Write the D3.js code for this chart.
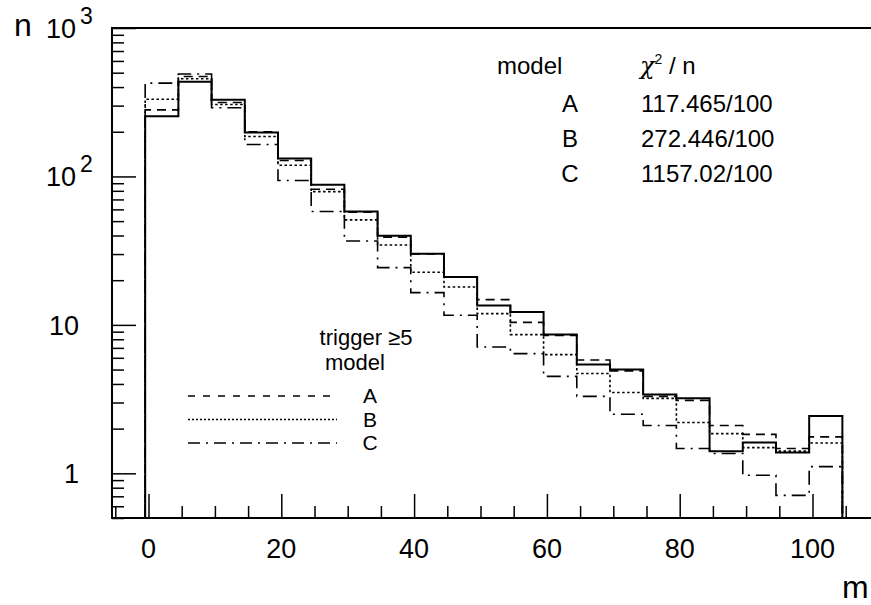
<!DOCTYPE html>
<html>
<head>
<meta charset="utf-8">
<script src="https://cdn.jsdelivr.net/npm/d3@7"></script>
<style>
  body { margin: 0; background: #fff; }
  svg { display: block; font-family: "Liberation Sans", Arial, sans-serif; }
  .axis path { display: none; }
  .axis line { stroke: #000; stroke-width: 1.5; }
</style>
</head>
<body>
<div id="chart"></div>
<script>
// bin edges (m) and bin contents (n)
const binEdges = [-0.5, 4.5, 9.5, 14.5, 19.5, 24.5, 29.5, 34.5, 39.5, 44.5, 49.5,
  54.5, 59.5, 64.5, 69.5, 74.5, 79.5, 84.5, 89.5, 94.5, 99.5, 104.5];
const dataN = [254, 434, 328, 198, 132, 88, 58, 39.8, 30.2, 21, 13.5, 12.2, 8.6, 5.4, 5.0, 3.4, 3.2, 1.41, 1.61, 1.38, 2.43];
const modelA = [281, 471, 315, 200, 128, 82, 57.5, 39, 30, 21, 14.8, 10.4, 8.5, 5.8, 4.9, 3.3, 3.1, 2.1, 1.83, 1.47, 1.76];
const modelB = [331, 455, 305, 186, 119, 79, 51, 34.5, 22.6, 18, 11.9, 8.6, 6.3, 4.7, 3.5, 3.2, 2.2, 1.85, 1.49, 1.41, 1.6];
const modelC = [425, 490, 290, 164, 94, 58, 36.7, 24.3, 16.5, 11.6, 7.1, 6.4, 4.5, 3.3, 2.5, 2.1, 1.47, 1.36, 0.97, 0.71, 1.11];

const modelNames = ["A", "B", "C"];
const chi2 = ["117.465/100", "272.446/100", "1157.02/100"];
const xTicks = d3.range(-5, 106, 5);
const xLabels = [0, 20, 40, 60, 80, 100];
const yMajor = [1, 10, 100, 1000];

let width = 871,
  height = 605,
  frame = ({ left: 112, right: 871, top: 28, bottom: 518 });

const svg = d3.select("#chart")
  .append("svg")
  .attr("width", width)
  .attr("height", height);

let x = d3.scaleLinear()
  .domain([0, 100])
  .range([148.5, 812.5]);

let y = d3.scaleLog()
  .domain([0.5, 1000])
  .range([frame.bottom, frame.top]);

// minor log ticks
let yMinor = [];
[0.1, 1, 10, 100].forEach(d => {
  for (let k = 2; k <= 9; k++) {
    let v = +(d * k).toPrecision(3);
    if (v >= 0.5 && v < 1000) yMinor.push(v);
  }
});

// y axis ticks (inward)
svg.append("g")
  .attr("class", "axis")
  .attr("transform", `translate(${frame.left},0)`)
  .call(d3.axisLeft(y).tickValues(yMinor).tickSize(-12).tickFormat(""));
svg.append("g")
  .attr("class", "axis")
  .attr("transform", `translate(${frame.left},0)`)
  .call(d3.axisLeft(y).tickValues(yMajor).tickSize(-24).tickFormat(""));

// x axis ticks (inward)
svg.append("g")
  .attr("class", "axis")
  .attr("transform", `translate(0,${frame.bottom})`)
  .call(d3.axisBottom(x).tickValues(xTicks.filter(d => d % 20 !== 0)).tickSize(-12).tickFormat(""));
svg.append("g")
  .attr("class", "axis")
  .attr("transform", `translate(0,${frame.bottom})`)
  .call(d3.axisBottom(x).tickValues(xLabels).tickSize(-24).tickFormat(""));

// frame
svg.append("path")
  .attr("d", `M${frame.right},${frame.top}H${frame.left}V${frame.bottom}H${frame.right}`)
  .attr("fill", "none")
  .attr("stroke", "#000")
  .attr("stroke-width", 2);

// x labels
svg.append("g")
  .selectAll("text")
  .data(xLabels)
  .join("text")
  .attr("x", d => x(d))
  .attr("y", 558)
  .attr("text-anchor", "middle")
  .attr("font-size", 27)
  .text(d => d);

// y labels
const yl = svg.append("g")
  .selectAll("text")
  .data(yMajor)
  .join("text")
  .attr("x", 79)
  .attr("y", d => y(d) + 10)
  .attr("text-anchor", "end")
  .attr("font-size", 27);
yl.filter(d => d < 100).text(d => d);
yl.filter(d => d >= 100).each(function(d) {
  const t = d3.select(this).attr("text-anchor", "start").attr("x", 46);
  t.append("tspan").text("10");
  t.append("tspan").attr("dx", 4).attr("dy", -14).attr("font-size", 23).text(Math.round(Math.log10(d)));
});

// axis titles
svg.append("text").attr("x", 14).attr("y", 36).attr("font-size", 32).text("n");
svg.append("text").attr("x", 842).attr("y", 598).attr("font-size", 32).text("m");

// histograms
const series = [
  { values: modelC, dash: "14,6,2,6", width: 1.6 },
  { values: modelB, dash: "2.5,2.5", width: 1.6 },
  { values: modelA, dash: "9,6", width: 1.6 },
  { values: dataN, dash: null, width: 2 }
];

const step = d3.line()
  .x(d => x(d[0]))
  .y(d => y(Math.max(d[1], 0.5)))
  .curve(d3.curveStepAfter);

series.forEach(s => {
  let pts = [[binEdges[0], 0.5]];
  s.values.forEach((v, i) => pts.push([binEdges[i], v]));
  pts.push([binEdges[binEdges.length - 1], s.values[s.values.length - 1]]);
  pts.push([binEdges[binEdges.length - 1], 0.5]);
  svg.append("path")
    .attr("d", step(pts))
    .attr("fill", "none")
    .attr("stroke", "#000")
    .attr("stroke-width", s.width)
    .attr("stroke-dasharray", s.dash);
});

// chi2 table
const tbl = svg.append("g").attr("font-size", 24);
tbl.append("text").attr("x", 497).attr("y", 74).text("model");
const chiT = tbl.append("text").attr("x", 640).attr("y", 74);
chiT.append("tspan").attr("font-style", "italic").attr("font-family", "DejaVu Serif").text("χ");
chiT.append("tspan").attr("font-size", 14).attr("dy", -10).text("2");
chiT.append("tspan").attr("dy", 10).text(" / n");
tbl.selectAll(".mname")
  .data(modelNames)
  .join("text")
  .attr("x", 570)
  .attr("y", (d, i) => 112 + i * 35)
  .attr("text-anchor", "middle")
  .text(d => d);
tbl.selectAll(".chi")
  .data(chi2)
  .join("text")
  .attr("class", "chi")
  .attr("x", 641)
  .attr("y", (d, i) => 112 + i * 35)
  .text(d => d);

// legend
const lg = svg.append("g").attr("font-size", 22);
lg.append("text").attr("x", 366).attr("y", 345).attr("text-anchor", "middle").text("trigger ≥5");
lg.append("text").attr("x", 355).attr("y", 370).attr("text-anchor", "middle").text("model");
const legDash = ["7,8", "2,2", "12,6,2,6"];
modelNames.forEach((m, i) => {
  let ly = 396 + i * 23.5;
  lg.append("line")
    .attr("x1", 188).attr("x2", 337)
    .attr("y1", ly).attr("y2", ly)
    .attr("stroke", "#000")
    .attr("stroke-width", 1.5)
    .attr("stroke-dasharray", legDash[i]);
  lg.append("text")
    .attr("x", 370).attr("y", ly + 7)
    .attr("text-anchor", "middle")
    .attr("font-size", 21)
    .text(m);
});
</script>
</body>
</html>
